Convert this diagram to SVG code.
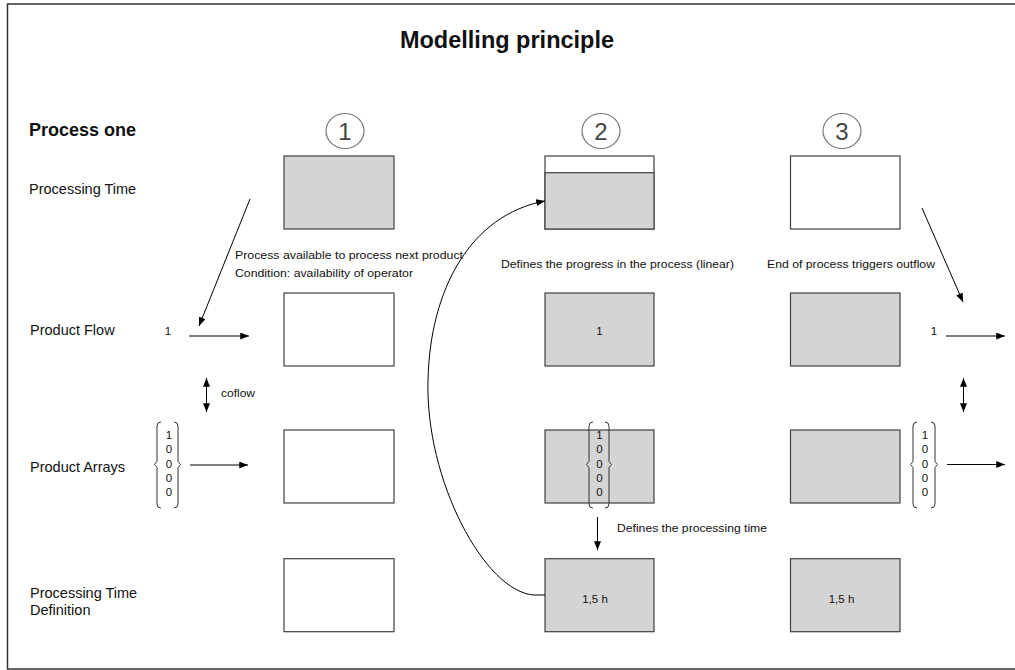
<svg xmlns="http://www.w3.org/2000/svg" width="1015" height="670" viewBox="0 0 1015 670">
<style>
.frame{fill:none;stroke:#333;stroke-width:1.5}
.box{stroke:#404040;stroke-width:1.2}
.g{fill:#d4d4d4}
.w{fill:#fff}
text{font-family:"Liberation Sans",Arial,sans-serif;fill:#111}
.title{font-size:23.5px;font-weight:bold;text-anchor:middle}
.head{font-size:18px;font-weight:bold}
.lbl{font-size:14.5px}
.sm{font-size:11.5px}
.mid{text-anchor:middle}
.circ{fill:none;stroke:#777;stroke-width:1.2}
.cnum{font-size:24px;fill:#444;text-anchor:middle}
.conn{stroke:#000;stroke-width:1;fill:none}
.arr{marker-end:url(#ah)}
.dbl{marker-end:url(#ah);marker-start:url(#ah)}
.brk{fill:none;stroke:#333;stroke-width:1}
</style>
<defs>
<marker id="ah" viewBox="0 0 10 8" refX="10" refY="4" markerUnits="userSpaceOnUse" markerWidth="9" markerHeight="7" orient="auto-start-reverse">
<path d="M0,0 L10,4 L0,8 z" fill="#000"/>
</marker>
</defs>
<rect width="1015" height="670" fill="#fff"/>
<path class="frame" d="M1015,4 L7.5,4 L7.5,669 L1015,669"/>

<text class="title" x="507" y="47.5">Modelling principle</text>
<text class="head" x="29" y="136">Process one</text>
<text class="lbl" x="29" y="194">Processing Time</text>
<text class="lbl" x="30" y="335">Product Flow</text>
<text class="lbl" x="30" y="472">Product Arrays</text>
<text class="lbl" x="30" y="598">Processing Time</text>
<text class="lbl" x="30" y="615">Definition</text>

<g id="step1">
<ellipse class="circ" cx="345" cy="131" rx="19" ry="17.5"/>
<text class="cnum" x="345" y="139.5">1</text>
</g>
<g id="step2">
<ellipse class="circ" cx="601" cy="131" rx="19" ry="17.5"/>
<text class="cnum" x="601" y="139.5">2</text>
</g>
<g id="step3">
<ellipse class="circ" cx="842" cy="131" rx="19" ry="17.5"/>
<text class="cnum" x="842" y="139.5">3</text>
</g>

<g id="pt1"><rect class="box g" x="284" y="156" width="110" height="73"/></g>
<g id="pt2"><rect class="box w" x="545" y="156" width="109" height="73"/><rect class="box g" x="545" y="172.7" width="109" height="56.3"/></g>
<g id="pt3"><rect class="box w" x="790.5" y="156" width="109.5" height="73"/></g>

<g id="pf1"><rect class="box w" x="284" y="293" width="110" height="73"/></g>
<g id="pf2"><rect class="box g" x="545" y="293" width="109" height="73"/><text class="sm mid" x="599.5" y="335">1</text></g>
<g id="pf3"><rect class="box g" x="790.5" y="293" width="109.5" height="73"/></g>

<g id="pa1"><rect class="box w" x="284" y="430" width="110" height="73"/></g>
<g id="pa2"><rect class="box g" x="545" y="430" width="109" height="73"/></g>
<g id="pa3"><rect class="box g" x="790.5" y="430" width="109.5" height="73"/></g>

<g id="pd1"><rect class="box w" x="284" y="558.7" width="110" height="73"/></g>
<g id="pd2"><rect class="box g" x="545" y="558.7" width="109" height="73"/><text class="sm mid" x="595" y="603">1,5 h</text></g>
<g id="pd3"><rect class="box g" x="790.5" y="558.7" width="109.5" height="73"/><text class="sm mid" x="841.5" y="603">1,5 h</text></g>

<g id="array-in">
<path class="brk" d="M161,422 Q157,422 157,426 L157,461.5 L154.5,464.5 L157,467.5 L157,504 Q157,508 161,508"/>
<path class="brk" d="M174,422 Q178,422 178,426 L178,461.5 L180.5,464.5 L178,467.5 L178,504 Q178,508 174,508"/>
<text class="sm mid" x="169" y="439">1</text>
<text class="sm mid" x="169" y="453.3">0</text>
<text class="sm mid" x="169" y="467.6">0</text>
<text class="sm mid" x="169" y="481.9">0</text>
<text class="sm mid" x="169" y="496.2">0</text>
</g>
<g id="array-mid">
<path class="brk" d="M593,422 Q589,422 589,426 L589,461.5 L586.5,464.5 L589,467.5 L589,504 Q589,508 593,508"/>
<path class="brk" d="M605,422 Q609,422 609,426 L609,461.5 L611.5,464.5 L609,467.5 L609,504 Q609,508 605,508"/>
<text class="sm mid" x="599.5" y="439">1</text>
<text class="sm mid" x="599.5" y="453.3">0</text>
<text class="sm mid" x="599.5" y="467.6">0</text>
<text class="sm mid" x="599.5" y="481.9">0</text>
<text class="sm mid" x="599.5" y="496.2">0</text>
</g>
<g id="array-out">
<path class="brk" d="M917,422 Q913,422 913,426 L913,461.5 L910.5,464.5 L913,467.5 L913,504 Q913,508 917,508"/>
<path class="brk" d="M931,422 Q935,422 935,426 L935,461.5 L937.5,464.5 L935,467.5 L935,504 Q935,508 931,508"/>
<text class="sm mid" x="925" y="439">1</text>
<text class="sm mid" x="925" y="453.3">0</text>
<text class="sm mid" x="925" y="467.6">0</text>
<text class="sm mid" x="925" y="481.9">0</text>
<text class="sm mid" x="925" y="496.2">0</text>
</g>

<g id="flow-labels">
<text class="sm mid" x="168" y="335">1</text>
<text class="sm mid" x="934" y="335">1</text>
</g>

<g id="notes">
<text class="sm" x="235" y="259" textLength="228" lengthAdjust="spacingAndGlyphs">Process available to process next product</text>
<text class="sm" x="235" y="277" textLength="178" lengthAdjust="spacingAndGlyphs">Condition: availability of operator</text>
<text class="sm" x="501" y="268" textLength="233" lengthAdjust="spacingAndGlyphs">Defines the progress in the process (linear)</text>
<text class="sm" x="767" y="268" textLength="168" lengthAdjust="spacingAndGlyphs">End of process triggers outflow</text>
<text class="sm" x="617" y="532" textLength="150" lengthAdjust="spacingAndGlyphs">Defines the processing time</text>
<text class="sm" x="221" y="397" textLength="34" lengthAdjust="spacingAndGlyphs">coflow</text>
</g>

<g id="connectors">
<line class="conn arr" x1="250" y1="199" x2="199" y2="326"/>
<line class="conn arr" x1="189" y1="336" x2="249" y2="336"/>
<line class="conn dbl" x1="206.5" y1="378" x2="206.5" y2="412"/>
<line class="conn arr" x1="190" y1="465" x2="248" y2="465"/>
<path class="conn arr" d="M545,595 L534,595 C485,592 425,480 428,380 C430,290 470,215 545,201"/>
<line class="conn arr" x1="597.5" y1="517" x2="597.5" y2="550"/>
<line class="conn arr" x1="922" y1="208" x2="963" y2="302"/>
<line class="conn arr" x1="946" y1="336" x2="1005" y2="336"/>
<line class="conn dbl" x1="963.5" y1="378" x2="963.5" y2="412"/>
<line class="conn arr" x1="947" y1="464.5" x2="1005" y2="464.5"/>
</g>
</svg>
